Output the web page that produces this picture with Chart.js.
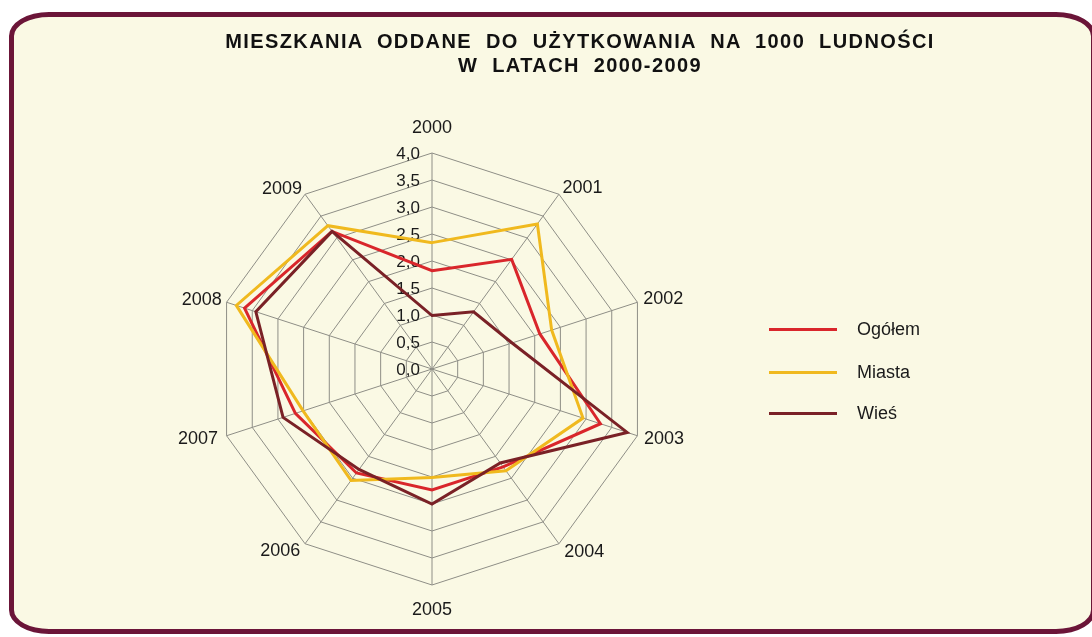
<!DOCTYPE html>
<html>
<head>
<meta charset="utf-8">
<script src="https://cdn.jsdelivr.net/npm/chart.js@4/dist/chart.umd.min.js"></script>
<style>
  html, body { margin: 0; padding: 0; background: #ffffff; }
  body { width: 1092px; height: 637px; position: relative; overflow: hidden; font-family: "Liberation Sans", Arial, sans-serif; }
  #frame { position: absolute; left: 9px; top: 12px; width: 1087px; height: 622px; box-sizing: border-box;
           border: 5px solid #6B1538; border-radius: 40px / 24px; background: #FAF9E4; }
  #c { position: absolute; left: 0; top: 0; }
  #title { position: absolute; left: 0; top: 29px; width: 1160px; text-align: center; font-weight: bold;
           font-size: 20px; line-height: 24px; letter-spacing: 1.4px; word-spacing: 7px; color: #111; }
  .lg { position: absolute; left: 769px; height: 20px; display: flex; align-items: center; font-size: 18px; color: #1a1a1a; }
  .lg span.ln { display: inline-block; width: 68px; height: 3px; margin-right: 20px; }
</style>
</head>
<body>
<div id="frame"></div>
<canvas id="c" width="1092" height="637"></canvas>
<div id="title"></div>
<div id="legend"></div>
<script>
// ---- data ----
const categories = ['2000', '2001', '2002', '2003', '2004', '2005', '2006', '2007', '2008', '2009'];
const ogolem = [1.82, 2.51, 2.10, 3.28, 2.24, 2.24, 2.38, 2.66, 3.65, 3.15];
const miasta = [2.34, 3.32, 2.33, 2.94, 2.33, 2.01, 2.55, 2.51, 3.81, 3.28];
const wies   = [0.99, 1.31, 1.56, 3.80, 2.15, 2.50, 2.30, 2.90, 3.43, 3.15];
const seriesNames = ['Ogółem', 'Miasta', 'Wieś'];
const scaleMin = 0;
const scaleMax = 4;
const scaleStep = 0.5;
const titleLines = ['MIESZKANIA ODDANE DO UŻYTKOWANIA NA 1000 LUDNOŚCI', 'W LATACH 2000-2009'];

// ---- styles ----
const colors = ['#D9262B', '#F0B91E', '#7A2126'];
const FONT = '"Liberation Sans", Arial, sans-serif';

document.getElementById('title').innerHTML = titleLines.join('<br>');

const legendY = [319, 362, 403];
const legendEl = document.getElementById('legend');
seriesNames.forEach((n, i) => {
  const d = document.createElement('div');
  d.className = 'lg';
  d.style.top = legendY[i] + 'px';
  d.innerHTML = '<span class="ln" style="background:' + colors[i] + '"></span><span>' + n + '</span>';
  legendEl.appendChild(d);
});

const fmt = v => (Math.abs(v) < 1e-9 ? 0 : v).toFixed(1).replace('.', ',');

const tickLabelPlugin = {
  id: 'tickLabels',
  beforeDatasetsDraw(chart) {
    const s = chart.scales.r;
    const ctx = chart.ctx;
    ctx.save();
    ctx.font = '17px ' + FONT;
    ctx.fillStyle = '#1a1a1a';
    ctx.textAlign = 'right';
    ctx.textBaseline = 'middle';
    s.ticks.forEach(t => {
      const d = s.getDistanceFromCenterForValue(t.value);
      ctx.fillText(fmt(t.value), s.xCenter - 12, s.yCenter - d + 1.5);
    });
    ctx.restore();
  }
};

const labelPad = [24, 6, 6, 7, 9, 24, 8, 9, 5, 5];

new Chart(document.getElementById('c'), {
  type: 'radar',
  data: {
    labels: categories,
    datasets: [
      { label: seriesNames[0], data: ogolem, borderColor: colors[0], order: 2 },
      { label: seriesNames[1], data: miasta, borderColor: colors[1], order: 1 },
      { label: seriesNames[2], data: wies, borderColor: colors[2], order: 0 }
    ]
  },
  options: {
    responsive: false,
    animation: false,
    devicePixelRatio: 1,
    layout: { padding: { left: 147, right: 375, top: 127, bottom: 26 } },
    elements: {
      line: { borderWidth: 3, fill: false, tension: 0, backgroundColor: 'transparent' },
      point: { radius: 0, hoverRadius: 0 }
    },
    plugins: { legend: { display: false }, title: { display: false }, tooltip: { enabled: false } },
    scales: {
      r: {
        min: scaleMin,
        max: scaleMax,
        ticks: { display: false, stepSize: scaleStep },
        grid: { color: '#8e8e86', lineWidth: 1, circular: false },
        angleLines: { color: '#8e8e86', lineWidth: 1 },
        pointLabels: {
          color: '#1a1a1a',
          font: { family: FONT, size: 18, lineHeight: '2px' },
          padding: ctx => labelPad[ctx.index]
        }
      }
    }
  },
  plugins: [tickLabelPlugin]
});
</script>
</body>
</html>
